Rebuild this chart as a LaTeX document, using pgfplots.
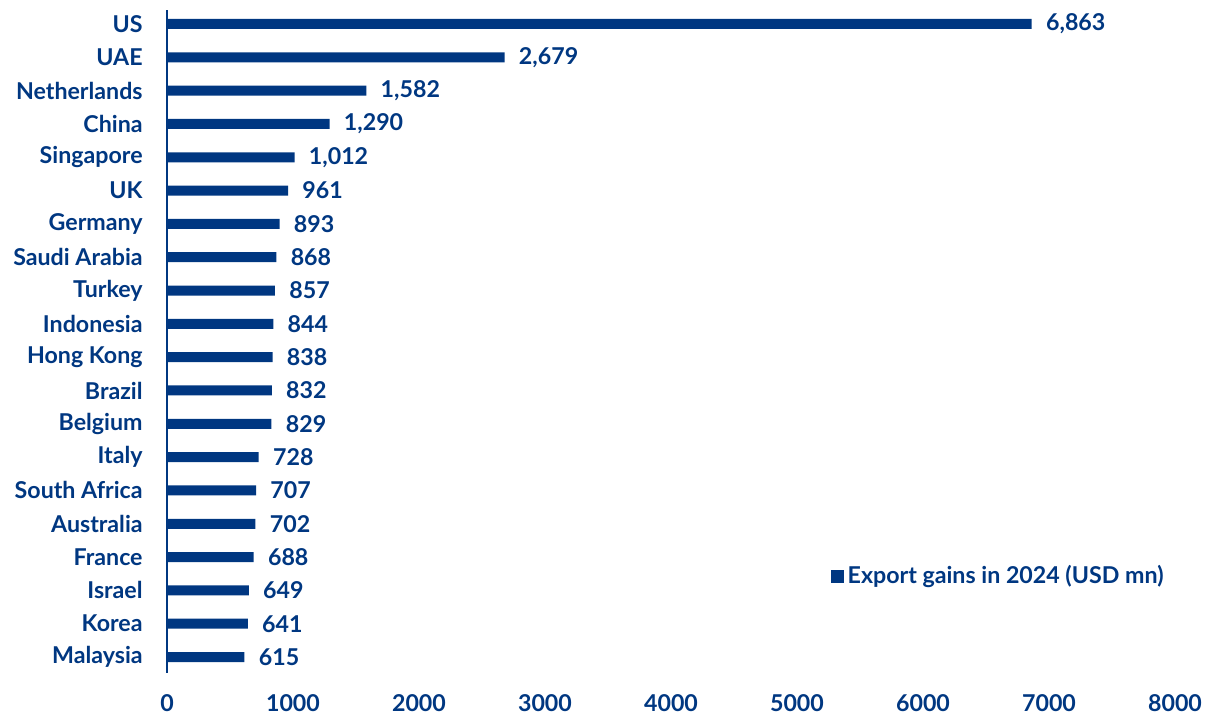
\documentclass[border=0pt]{standalone}
\usepackage{pgfplots}
\pgfplotsset{compat=1.18}
\usepackage{fontspec}
\setmainfont{Lato}
\definecolor{az}{HTML}{003781}
\newcommand{\azfont}{\fontsize{11.6}{13}\selectfont\bfseries}
\begin{document}
\begin{tikzpicture}
\begin{axis}[
  scale only axis,
  width=504pt, height=331.5pt,
  xbar, bar width=5pt,
  xmin=0, xmax=8000,
  ymin=-0.42, ymax=19.48, y dir=reverse,
  ytick={0,...,19},
  yticklabels={US,UAE,Netherlands,China,Singapore,UK,Germany,Saudi Arabia,Turkey,Indonesia,Hong Kong,Brazil,Belgium,Italy,South Africa,Australia,France,Israel,Korea,Malaysia},
  xtick={0,1000,...,8000},
  axis lines*=left,
  x axis line style={draw=none},
  y axis line style={draw=az, line width=1pt},
  major tick length=0pt,
  tick label style={font=\azfont, text=az},
  yticklabel style={inner sep=0pt, anchor=east, xshift=-12pt},
  xticklabel style={inner sep=0pt, anchor=center, yshift=-15pt, /pgf/number format/1000 sep={}, /pgf/number format/assume math mode=true},
  nodes near coords,
  nodes near coords style={font=\azfont, text=az, anchor=west, inner sep=0pt, xshift=7pt, /pgf/number format/1000 sep={,}, /pgf/number format/assume math mode=true},
  legend style={at={(0.658,0.146)}, anchor=west, draw=none, fill=none, inner sep=0pt, font=\azfont, text=az, legend cell align=left},
  legend image code/.code={\fill[az] (0pt,-3.2pt) rectangle (6.5pt,3.2pt);},
]
\addplot[fill=az, draw=none] coordinates {
(6863,0) (2679,1) (1582,2) (1290,3) (1012,4) (961,5) (893,6) (868,7) (857,8) (844,9)
(838,10) (832,11) (829,12) (728,13) (707,14) (702,15) (688,16) (649,17) (641,18) (615,19)};
\addlegendentry{Export gains in 2024 (USD mn)}
\end{axis}
\path ([shift={(-83.5pt,-22pt)}]current axis.south west) rectangle ([shift={(16.5pt,5pt)}]current axis.north east);
\end{tikzpicture}
\end{document}
